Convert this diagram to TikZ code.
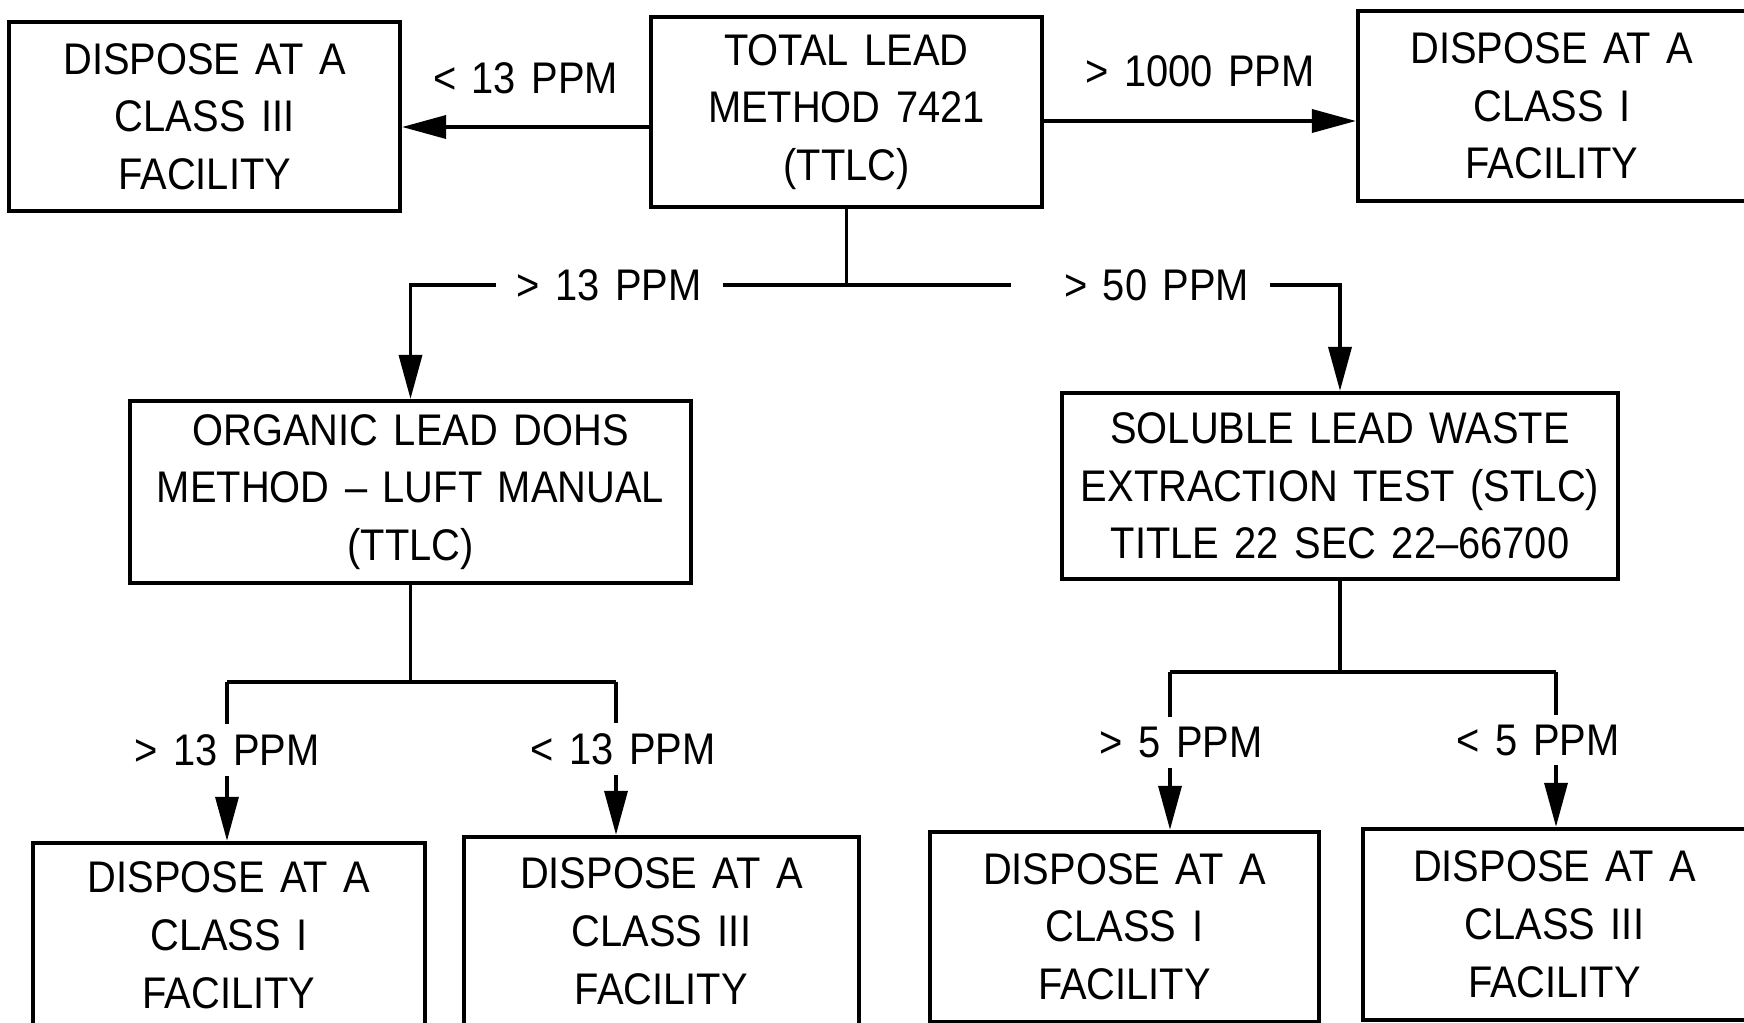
\documentclass[tikz,border=0pt]{standalone}
\usepackage{fontspec}
\usepackage{tikz}
\usetikzlibrary{arrows.meta,positioning}
\newfontfamily\flowfont[Ligatures=TeX,FakeStretch=0.9,WordSpace=1.4]{Liberation Sans}

\begin{document}
\begin{tikzpicture}[
    box/.style={draw,line width=1.1pt,minimum height=1.9cm,align=center,inner sep=0pt,
      font=\flowfont\fontsize{12.6}{16.4}\selectfont},
    lbl/.style={inner xsep=2mm,inner ysep=1mm,font=\flowfont\fontsize{12.6}{16.4}\selectfont},
    arrow/.style={-{Triangle[length=4.4mm,width=2.3mm]},line width=1pt},
    link/.style={line width=1pt}
  ]
    \path[use as bounding box,fill=white] (0,0) rectangle (17.44,-10.22);

    \node[box,minimum width=3.91cm] (tc) at (8.465,-1.12) {TOTAL LEAD\\METHOD 7421\\(TTLC)};
    \node[box,minimum width=3.91cm,minimum height=1.89cm,left=2.47cm of tc,yshift=-0.045cm] (tl)
      {DISPOSE AT A\\CLASS III\\FACILITY};
    \node[box,minimum width=3.88cm,right=3.12cm of tc,yshift=0.06cm] (tr)
      {DISPOSE AT A\\CLASS I\\FACILITY};

    \node[box,minimum width=5.61cm,minimum height=1.82cm,below=1.90cm of tc,xshift=-4.36cm] (org)
      {ORGANIC LEAD DOHS\\METHOD -- LUFT MANUAL\\(TTLC)};
    \node[box,minimum width=5.56cm,minimum height=1.86cm,below=1.82cm of tc,xshift=4.935cm] (sol)
      {SOLUBLE LEAD WASTE\\EXTRACTION TEST (STLC)\\TITLE 22 SEC 22--66700};

    \node[box,minimum width=3.92cm,minimum height=1.85cm,below=2.56cm of org,xshift=-1.815cm] (blI)
      {DISPOSE AT A\\CLASS I\\FACILITY};
    \node[box,minimum width=3.95cm,minimum height=1.89cm,right=0.35cm of blI,yshift=0.04cm] (blIII)
      {DISPOSE AT A\\CLASS III\\FACILITY};
    \node[box,minimum width=3.89cm,minimum height=1.90cm,below=2.49cm of sol,xshift=-2.155cm] (brI)
      {DISPOSE AT A\\CLASS I\\FACILITY};
    \node[box,minimum width=3.83cm,minimum height=1.91cm,right=0.40cm of brI,yshift=0.025cm] (brIII)
      {DISPOSE AT A\\CLASS III\\FACILITY};

    \draw[arrow] ([yshift=-1.5mm]tc.west) -- node[lbl,above=2.1mm] {< 13 PPM} ([yshift=-1.5mm]tc.west -| tl.east);
    \draw[arrow] ([yshift=-0.9mm]tc.east) -- node[lbl,above=2.2mm] {> 1000 PPM} ([yshift=-0.9mm]tc.east -| tr.west);

    \coordinate[below=7.6mm of tc] (tsplit);
    \node[lbl,left=1.24cm of tsplit] (gtorg) {> 13 PPM};
    \node[lbl,right=1.97cm of tsplit] (gtsol) {> 50 PPM};
    \draw[link] (tc.south) -- (tsplit);
    \draw[link,shorten >=3.3mm] (gtorg.east) -- (gtsol.west);
    \draw[arrow] (gtorg.west) -| (org.north);
    \draw[arrow] (gtsol.east) -| (sol.north);

    \coordinate[below=9.7mm of org] (osplit);
    \coordinate[left=1.835cm of osplit] (oleft);
    \coordinate[right=2.055cm of osplit] (oright);
    \draw[link] (org.south) -- (osplit);
    \draw[link] (oleft) -- (oright);
    \draw[arrow] (oleft) -- node[lbl,fill=white,pos=0.43] {> 13 PPM} (oleft |- blI.north);
    \draw[arrow] (oright) -- node[lbl,fill=white,pos=0.44,xshift=0.7mm] {< 13 PPM} (oright |- blIII.north);

    \coordinate[below=9.1mm of sol] (ssplit);
    \coordinate[left=1.70cm of ssplit] (sleft);
    \coordinate[right=2.16cm of ssplit] (sright);
    \draw[link] (sol.south) -- (ssplit);
    \draw[link] (sleft) -- (sright);
    \draw[arrow] (sleft) -- node[lbl,fill=white,pos=0.45,xshift=1.1mm] {> 5 PPM} (sleft |- brI.north);
    \draw[arrow] (sright) -- node[lbl,fill=white,pos=0.44,xshift=-1.8mm] {< 5 PPM} (sright |- brIII.north);
  \end{tikzpicture}
\end{document}
